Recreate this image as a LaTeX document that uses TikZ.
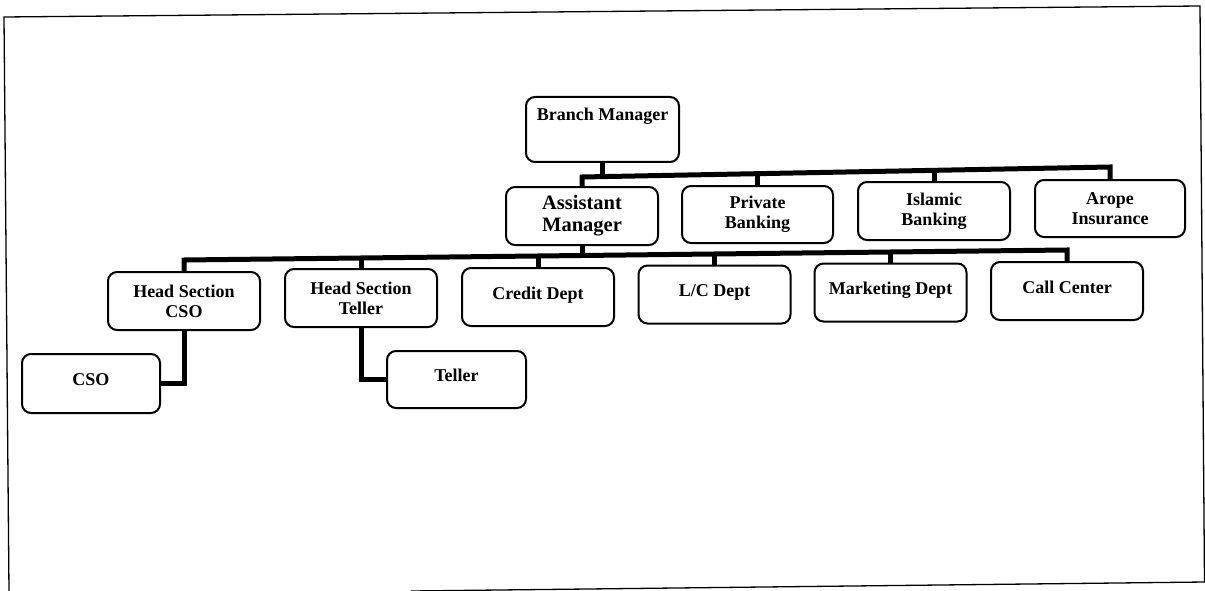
\documentclass[tikz,border=0pt]{standalone}
\usepackage{fontspec}
\setmainfont{Liberation Serif}
\usetikzlibrary{calc}
\begin{document}
\begin{tikzpicture}[x=1pt,y=-1pt,
  box/.style={draw, line width=2pt, rounded corners=9pt, minimum width=152pt, minimum height=58pt,
    inner sep=0pt, outer sep=0pt, align=center, font=\bfseries\fontsize{18}{20}\selectfont},
  one/.style={text height=12.6pt, text depth=8.6pt},
  conn/.style={line width=5pt, line join=miter},
  frame/.style={line width=1.3pt}]
\useasboundingbox (0,0) rectangle (1205,591);
\fill[white] (0,0) rectangle (1205,591);
% frame (scanned, slightly tilted)
\draw[frame] (9,591) -- (4,17) -- (1200,6) -- (1204.5,582);
\draw[frame] (411,591) -- (1205,582);
% boxes
\node[box, minimum width=153pt, minimum height=65pt] (bm) at (602.5,129.5) {};
\node[font=\bfseries\fontsize{18}{20}\selectfont, anchor=base, inner sep=0pt] (bmtext) at ($(bm.north)+(0,24)$) {Branch Manager};
\node[box, font=\bfseries\fontsize{20.5}{22}\selectfont] (am) at (582,216) {Assistant\\Manager};
\node[box, minimum width=151pt, minimum height=57pt] (pb) at (757.5,214.5) {Private\\Banking};
\node[box] (ib) at (934,211) {Islamic\\Banking};
\node[box, minimum width=150pt, minimum height=57pt] (ar) at (1110,208.5) {Arope\\Insurance};
\node[box] (hc) at (184,301) {Head Section\\CSO};
\node[box] (ht) at (361,298) {Head Section\\Teller};
\node[box, one] (cr) at (538,297) {Credit Dept};
\node[box, one] (lc) at (714.5,294.5) {L/C Dept};
\node[box, one] (mk) at (890.5,292.5) {Marketing Dept};
\node[box, one] (cc) at (1067,291) {Call Center};
\node[box, one, minimum width=138pt, minimum height=59pt] (cso) at (91,383.5) {CSO};
\node[box, one, minimum width=139pt, minimum height=57pt] (tl) at (456.5,379.5) {Teller};
% connectors level 1
\coordinate (b1l) at ($(am.north)+(0,-10)$);
\coordinate (b1r) at ($(ar.north)+(0,-13)$);
\draw[conn] (bm.south) -- ++(0,15);
\draw[conn] (am.north) -- (b1l) -- (b1r) -- (ar.north);
\draw[conn] (pb.north) -- ++(0,-12);
\draw[conn] (ib.north) -- ++(0,-12);
% connectors level 2
\coordinate (b2l) at ($(hc.north)+(0,-12)$);
\coordinate (b2r) at ($(cc.north)+(0,-12)$);
\draw[conn] (hc.north) -- (b2l) -- (b2r) -- (cc.north);
\draw[conn] (am.south) -- ++(0,10);
\draw[conn] (ht.north) -- ++(0,-12);
\draw[conn] (cr.north) -- ++(0,-12);
\draw[conn] (lc.north) -- ++(0,-12);
\draw[conn] (mk.north) -- ++(0,-12);
% connectors level 3
\draw[conn] (hc.south) |- (cso.east);
\draw[conn] (ht.south) |- (tl.west);
\end{tikzpicture}
\end{document}
